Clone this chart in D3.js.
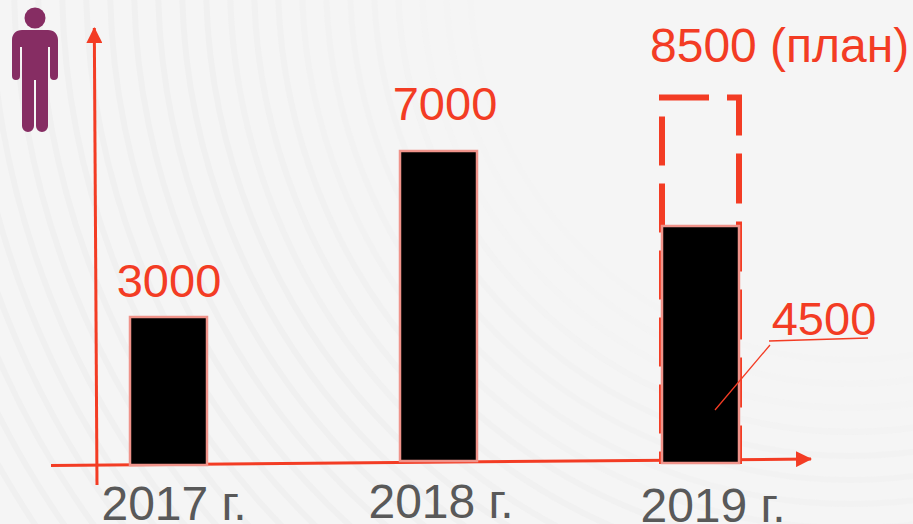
<!DOCTYPE html>
<html>
<head>
<meta charset="utf-8">
<script src="https://cdnjs.cloudflare.com/ajax/libs/d3/7.8.5/d3.min.js"></script>
<style>
html, body { margin: 0; padding: 0; background: #f5f5f5; }
svg { display: block; font-family: "Liberation Sans", Arial, sans-serif; }
</style>
</head>
<body>
<svg class="chart_svg" width="913" height="524"></svg>
<script>
const years = ["2017 г.", "2018 г.", "2019 г."];
const values = [3000, 7000, 4500];
const planYear = "2019 г.";
const planValue = 8500;
const planLabel = "8500 (план)";

const red = "#f33c24";
const svg = d3.select(".chart_svg");

// faint background stripes
const stripeRadii = d3.range(380, 1000, 24);
svg.append("rect").attr("width", 913).attr("height", 524).attr("fill", "#f5f5f5");
svg.append("g").selectAll("circle")
    .data(stripeRadii)
    .enter()
    .append("circle")
    .attr("cx", 850)
    .attr("cy", -20)
    .attr("r", d => d)
    .attr("fill", "none")
    .attr("stroke", "#f0f0f0")
    .attr("stroke-width", 6)
    .style("opacity", d => Math.min(1, (d - 340) / 300));

// the picture was drawn by hand, heights are not proportional
const y = d3.scaleLinear()
    .domain([0, 3000, 4500, 7000, 8500])
    .range([463, 317, 226, 151, 97.5]);

const x = d3.scaleOrdinal()
    .domain(years)
    .range([168.5, 438.5, 700.5]);

const barWidth = 77;
const barBottom = d3.scaleOrdinal().domain(years).range([465, 461, 463]);
const labelX = d3.scaleOrdinal().domain(years).range([174, 441, 713]);
const labelBase = d3.scaleOrdinal().domain(years).range([519.5, 518, 522]);
const valueX = d3.scaleOrdinal().domain(years).range([169, 445, 824]);
const valueBase = d3.scaleOrdinal().domain(years).range([297, 120, 335]);

const defs = svg.append("defs");
defs.append("marker")
    .attr("id", "arrow")
    .attr("markerUnits", "userSpaceOnUse")
    .attr("viewBox", "0 0 16 16")
    .attr("refX", 15)
    .attr("refY", 8)
    .attr("markerWidth", 16)
    .attr("markerHeight", 16)
    .attr("orient", "auto")
    .append("path")
    .attr("d", "M0,0L16,8L0,16Z")
    .attr("fill", red);

// person icon
const icon = svg.append("g").attr("fill", "#862d63");
icon.append("circle").attr("cx", 35).attr("cy", 18).attr("r", 10.5);
icon.append("path")
    .attr("d", "M22,30H48C54,30 58,34 58,40V76A4,4 0 0 1 50,76V47H48V126A6,6 0 0 1 36,126V80H34V126A6,6 0 0 1 22,126V47H20V76A4,4 0 0 1 12,76V40C12,34 16,30 22,30Z");

// axes
svg.append("line")
    .attr("x1", 97).attr("y1", 485)
    .attr("x2", 94.3).attr("y2", 28)
    .attr("stroke", red).attr("stroke-width", 3)
    .attr("marker-end", "url(#arrow)");

svg.append("line")
    .attr("x1", 51).attr("y1", 465.5)
    .attr("x2", 811).attr("y2", 459)
    .attr("stroke", red).attr("stroke-width", 3)
    .attr("marker-end", "url(#arrow)");

// plan outline, the two sides are dashed from the top left corner
const planLeft = x(planYear) - 38.5;
const planRight = x(planYear) + 38.5;
svg.append("path")
    .attr("d", `M${planLeft - 3},${y(planValue)}H${planRight}V${y(0) + 1}`)
    .attr("fill", "none")
    .attr("stroke", red)
    .attr("stroke-width", 6)
    .attr("stroke-dasharray", "50 18");

svg.append("path")
    .attr("d", `M${planLeft},${y(planValue) + 19}V${y(0) + 1}`)
    .attr("fill", "none")
    .attr("stroke", red)
    .attr("stroke-width", 6)
    .attr("stroke-dasharray", "49 18");

// bars
svg.append("g").selectAll("rect")
    .data(years)
    .enter()
    .append("rect")
    .attr("x", d => x(d) - barWidth / 2)
    .attr("y", (d, i) => y(values[i]))
    .attr("width", barWidth)
    .attr("height", (d, i) => barBottom(d) - y(values[i]))
    .attr("fill", "#000")
    .attr("stroke", "#f0938a")
    .attr("stroke-width", 2.5);

// year labels
svg.append("g").selectAll("text")
    .data(years)
    .enter()
    .append("text")
    .attr("x", d => labelX(d))
    .attr("y", d => labelBase(d))
    .attr("text-anchor", "middle")
    .attr("font-size", 48)
    .attr("fill", "#595959")
    .text(d => d);

// value labels
svg.append("g").selectAll("text")
    .data(years)
    .enter()
    .append("text")
    .attr("x", d => valueX(d))
    .attr("y", d => valueBase(d))
    .attr("text-anchor", "middle")
    .attr("font-size", 47)
    .attr("fill", red)
    .text((d, i) => values[i]);

svg.append("text")
    .attr("x", 650)
    .attr("y", 62)
    .attr("font-size", 48)
    .attr("fill", red)
    .text(planLabel);

// callout for 4500
svg.append("path")
    .attr("d", "M715,410L770,345M769,341L868,338")
    .attr("fill", "none")
    .attr("stroke", red)
    .attr("stroke-width", 1.3);
</script>
</body>
</html>
